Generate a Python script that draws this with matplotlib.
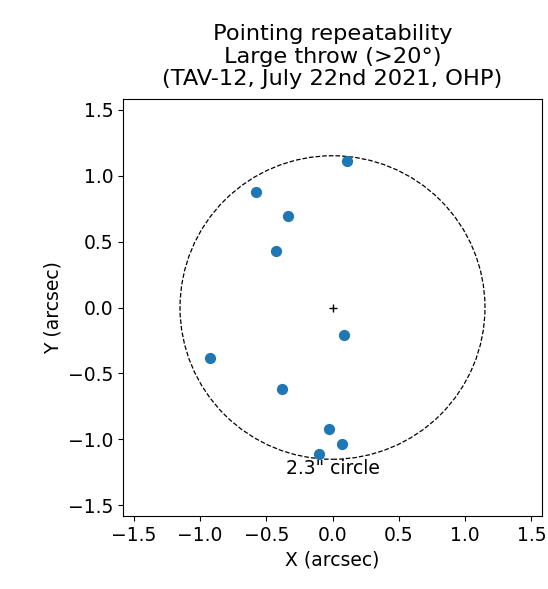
import matplotlib
matplotlib.use("Agg")
import matplotlib.pyplot as plt
from matplotlib.patches import Circle

# pointing offsets (arcsec)
x_off = [0.113, -0.575, -0.333, -0.429, 0.087, -0.921, -0.382, -0.023, 0.070, -0.102]
y_off = [1.107, 0.872, 0.695, 0.428, -0.210, -0.380, -0.619, -0.922, -1.031, -1.111]

circle_diam = 2.3  # arcsec
ticks = [-1.5, -1.0, -0.5, 0.0, 0.5, 1.0, 1.5]

plt.rcParams["font.size"] = 13.5

fig = plt.figure(figsize=(5.48, 5.89), dpi=100)
ax = fig.add_axes([123 / 548, 1 - 516 / 589, 419 / 548, 417 / 589])

ax.scatter(x_off, y_off, s=50, color="#1f77b4", zorder=3)
ax.plot([0], [0], marker="+", color="black", markersize=6, linestyle="none")

r = circle_diam / 2
ax.add_patch(Circle((0, 0), r, fill=False, linestyle="--", edgecolor="black", linewidth=0.9))
ax.text(0, -r, '2.3" circle', ha="center", va="top")

ax.set_xlim(-1.58, 1.58)
ax.set_ylim(-1.58, 1.58)
ax.set_xticks(ticks)
ax.set_yticks(ticks)
ax.set_xlabel("X (arcsec)")
ax.set_ylabel("Y (arcsec)")
ax.set_title("Pointing repeatability\nLarge throw (>20°)\n(TAV-12, July 22nd 2021, OHP)",
             linespacing=1.15, pad=10)

fig.savefig("out.png", dpi=100)
